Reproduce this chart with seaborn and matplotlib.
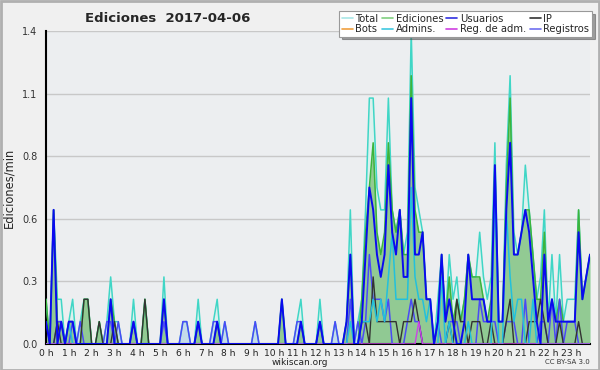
import numpy as np
import pandas as pd
import matplotlib
matplotlib.use("Agg")
import matplotlib.pyplot as plt
from matplotlib.lines import Line2D
from matplotlib.patches import Rectangle
import seaborn as sns

# ---- data: counts per 10-minute slot (edits per 10 min); shown as edits/min ----
hour_labels = [f"{h} h" for h in range(24)]

total = [2,0,6,2,2,0,1,2,0,1, 2,2,0,0,1,0,1,3,1,1, 0,0,0,2,0,0,2,0,0,0,
         0,3,0,0,0,0,1,1,0,0, 2,0,0,0,1,2,0,1,0,0, 0,0,0,0,0,1,0,0,0,0,
         0,0,2,0,0,0,1,2,0,0, 0,0,2,0,0,0,1,0,0,1, 6,0,1,2,6,11,11,7,6,6,
         11,6,5,6,4,5,14,7,6,5, 2,2,0,2,4,1,4,2,3,1, 2,4,3,3,5,3,2,3,9,1,
         1,8,12,5,4,5,8,6,4,2, 3,6,1,4,1,4,1,2,2,2, 6,2,3,4]
edits = [2,0,6,1,1,0,1,1,0,0, 2,2,0,0,1,0,0,2,1,0, 0,0,0,1,0,0,2,0,0,0,
         0,2,0,0,0,0,0,0,0,0, 1,0,0,0,0,1,0,0,0,0, 0,0,0,0,0,0,0,0,0,0,
         0,0,2,0,0,0,0,1,0,0, 0,0,1,0,0,0,0,0,0,1, 4,0,0,2,5,7,9,5,4,5,
         9,6,5,6,4,4,12,6,5,5, 2,2,0,1,4,1,3,1,2,1, 2,4,3,3,3,2,1,2,8,1,
         1,7,11,4,4,5,6,6,4,2, 2,5,1,2,1,2,1,1,1,1, 6,2,3,4]
users = [1,0,6,0,1,0,1,1,0,0, 0,0,0,0,0,0,0,2,0,0, 0,0,0,1,0,0,0,0,0,0,
         0,2,0,0,0,0,0,0,0,0, 1,0,0,0,0,1,0,0,0,0, 0,0,0,0,0,0,0,0,0,0,
         0,0,2,0,0,0,0,1,0,0, 0,0,1,0,0,0,0,0,0,1, 4,0,0,1,4,7,6,4,3,4,
         8,5,4,6,3,3,11,4,4,5, 2,2,0,1,4,1,2,1,0,0, 1,4,2,2,2,2,1,1,8,1,
         1,6,9,4,4,5,6,5,3,1, 0,4,1,2,1,1,1,1,1,1, 5,2,3,4]
ip = [1,0,0,1,0,0,0,0,0,0, 2,2,0,0,1,0,0,0,1,0, 0,0,0,0,0,0,2,0,0,0,
      0,0,0,0,0,0,0,0,0,0, 0,0,0,0,0,0,0,0,0,0, 0,0,0,0,0,0,0,0,0,0,
      0,0,0,0,0,0,0,0,0,0, 0,0,0,0,0,0,0,0,0,0, 0,0,0,1,1,0,3,1,1,1,
      1,1,1,0,1,1,1,2,1,0, 0,0,0,0,0,0,1,0,2,1, 1,0,1,1,1,0,0,1,0,0,
      0,1,2,0,0,0,0,1,1,1, 2,1,0,0,0,1,0,0,0,0, 1,0,0,0]
admins = [0,0,0,0,0,0,1,0,0,0, 0,0,0,0,0,0,0,0,0,0, 0,0,0,0,0,0,0,0,0,0,
          0,0,0,0,0,0,0,0,0,0, 0,0,0,0,0,0,0,0,0,0, 0,0,0,0,0,0,0,0,0,0,
          0,0,0,0,0,0,0,0,0,0, 0,0,0,0,0,0,0,0,0,0, 1,0,0,1,1,1,2,1,2,1,
          3,5,2,2,2,2,7,3,2,2, 1,2,0,0,3,0,1,0,0,0, 0,1,0,0,0,0,0,0,7,0,
          0,6,3,1,2,2,0,0,2,0, 0,0,0,0,0,0,0,0,0,0, 0,0,0,0]
logs = [0,0,0,1,1,0,0,1,0,1, 0,0,0,0,0,0,1,1,0,1, 0,0,0,1,0,0,0,0,0,0,
        0,1,0,0,0,0,1,1,0,0, 1,0,0,0,1,1,0,1,0,0, 0,0,0,0,0,1,0,0,0,0,
        0,0,0,0,0,0,1,1,0,0, 0,0,1,0,0,0,1,0,0,0, 2,0,1,0,1,4,2,2,2,1,
        2,0,0,0,0,1,2,1,1,0, 0,0,0,1,0,0,1,1,1,0, 0,0,0,0,2,1,1,1,1,0,
        0,1,1,1,0,0,2,0,0,0, 1,1,0,2,0,2,0,1,1,1, 0,0,0,0]
admin_logs = [0]*98 + [1] + [0]*45
bots = [0]*144

series_names = ["Total", "Ediciones", "Usuarios", "IP", "Bots", "Admins.", "Reg. de adm.", "Registros"]

slots = np.arange(144)
def per_min(v):
    return np.asarray(v, dtype=float) / 10.0

# ---- figure ----
sns.set_style("white")
plt.rcParams["font.family"] = ["DejaVu Sans"]
fig = plt.figure(figsize=(6.0, 3.7), dpi=100, facecolor="#f0f0f0")
ax = fig.add_axes([46/600, 1-344/370, (590-46)/600, (344-31)/370])
ax.set_facecolor("#eceef0")

# fills
ax.fill_between(slots, per_min(total), color="#dcf1ee", lw=0, zorder=1)
ax.fill_between(slots, per_min(logs), color="#c4dcea", lw=0, zorder=1.5)
ax.fill_between(slots, per_min(edits), color="#8ec88e", lw=0, alpha=0.95, zorder=2)

df = pd.DataFrame({"slot": slots,
                   "Total": per_min(total), "Ediciones": per_min(edits),
                   "Usuarios": per_min(users), "IP": per_min(ip),
                   "Bots": per_min(bots), "Admins.": per_min(admins),
                   "Reg. de adm.": per_min(admin_logs), "Registros": per_min(logs)})

line_style = {
    "Total": ("#40d6c6", 1.1, 3),
    "Ediciones": ("#3cb43c", 1.1, 3.1),
    "Registros": ("#4a4af6", 1.1, 3.2),
    "IP": ("#333333", 1.0, 3.3),
    "Admins.": ("#22c0dc", 1.1, 3.4),
    "Reg. de adm.": ("#cc44e6", 1.0, 3.5),
    "Usuarios": ("#0a0af0", 1.4, 3.6),
}
for name, (col, lw, z) in line_style.items():
    sns.lineplot(data=df, x="slot", y=name, color=col, linewidth=lw, ax=ax, zorder=z)

ax.set_xlim(0, 143)
ax.set_ylim(0, 1.4)
ax.set_xticks(np.arange(0, 144, 6))
ax.set_xticklabels(hour_labels, fontsize=6.6, color="#222222")
ax.set_xticks(np.arange(0, 144, 1), minor=True)
yt = [0, 0.28, 0.56, 0.84, 1.12, 1.4]
ax.set_yticks(yt)
ax.set_yticklabels([f"{v:.1f}" for v in yt], fontsize=7, color="#333333")
ax.set_yticks(np.arange(0, 1.41, 0.07), minor=True)
ax.tick_params(axis="x", which="both", direction="out", length=3.5, width=1, pad=0)
ax.tick_params(axis="y", which="major", direction="out", length=5, width=1, pad=1)
ax.tick_params(axis="y", which="minor", direction="out", length=3.5, width=1)
ax.grid(axis="y", color="#c8c8c8", lw=1)
ax.set_axisbelow(True)
for s in ["top", "right"]:
    ax.spines[s].set_visible(False)
for s in ["left", "bottom"]:
    ax.spines[s].set_color("black")
    ax.spines[s].set_linewidth(1.5)
ax.set_xlabel("")
ax.set_ylabel("Ediciones/min", fontsize=8.3)
ax.yaxis.set_label_coords((15 - 46) / 544, 0.5)

fig.text(85/600, 1-18/370, "Ediciones  2017-04-06", fontsize=9.5, fontweight="bold", va="center")
fig.text(300/600, 1-362.5/370, "wikiscan.org", fontsize=6.5, ha="center", va="center", color="#222222")
fig.text(590/600, 1-362.5/370, "CC BY-SA 3.0", fontsize=5, ha="right", va="center", color="#333333")

legend_colors = {"Total": "#a8e6e6", "Ediciones": "#80d080", "Usuarios": "#3030e0", "IP": "#333333",
                 "Bots": "#f0a040", "Admins.": "#40c8e0", "Reg. de adm.": "#d040e0", "Registros": "#7070f0"}
order = ["Total", "Bots", "Ediciones", "Admins.", "Usuarios", "Reg. de adm.", "IP", "Registros"]
handles = [Line2D([], [], color=legend_colors[n], lw=1.2) for n in order]
leg = fig.legend(handles, order, loc="upper right", bbox_to_anchor=(592/600, 1-11/370), ncol=4,
                 fontsize=7.2, handlelength=1.1, handletextpad=0.3, columnspacing=0.3,
                 labelspacing=0.05, borderpad=0.25, frameon=True, fancybox=False, shadow=True,
                 borderaxespad=0)
leg.get_frame().set_edgecolor("#999999")
leg.get_frame().set_linewidth(0.8)

fig.add_artist(Rectangle((0.001, 0.001), 0.998, 0.997, transform=fig.transFigure, fill=False,
                         edgecolor="#b0b0b0", lw=2))

fig.savefig("out.png", dpi=100, facecolor=fig.get_facecolor())
